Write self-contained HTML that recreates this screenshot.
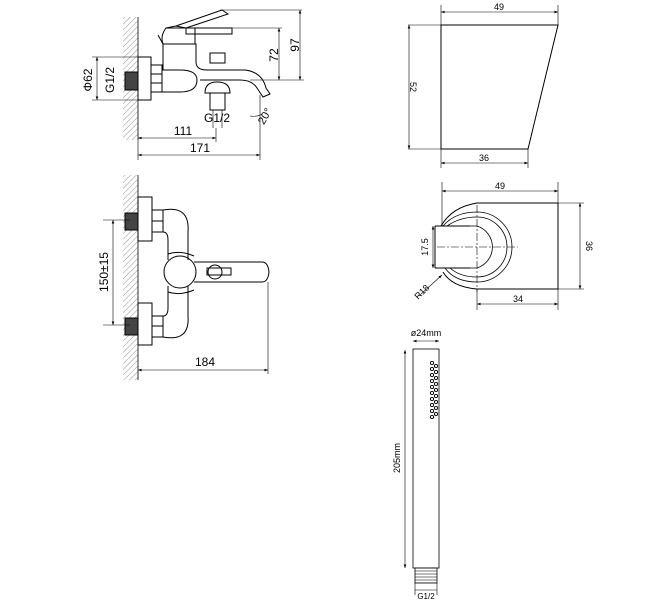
<!DOCTYPE html>
<html><head><meta charset="utf-8"><style>
html,body{margin:0;padding:0;background:#fff;}
svg{display:block;}
text{font-family:"Liberation Sans",sans-serif;fill:#000;}
</style></head><body>
<svg width="654" height="600" viewBox="0 0 654 600" xmlns="http://www.w3.org/2000/svg">
<defs>
<pattern id="h" width="4" height="4" patternUnits="userSpaceOnUse" patternTransform="rotate(45)">
<line x1="0" y1="0" x2="0" y2="4" stroke="#777" stroke-width="0.8"/></pattern>
<pattern id="t" width="3" height="3" patternUnits="userSpaceOnUse">
<line x1="0" y1="1" x2="3" y2="1" stroke="#777" stroke-width="1"/></pattern>
<marker id="a" viewBox="0 0 8 6" refX="8" refY="3" markerWidth="6" markerHeight="5" orient="auto-start-reverse"><path d="M0,0L8,3L0,6z" fill="#000"/></marker>
</defs>
<g fill="none" stroke="#000" stroke-width="1">
<rect x="123" y="17" width="15" height="123" fill="url(#h)" stroke="none"/>
<line x1="138" y1="17" x2="138" y2="140" stroke-width="0.8"/>
<rect x="138" y="57" width="13" height="43"/>
<rect x="151" y="65" width="11" height="27"/>
<line x1="151" y1="74" x2="162" y2="74"/><line x1="151" y1="83" x2="162" y2="83"/>
<rect x="125" y="72" width="13" height="18" fill="#444"/>
<path d="M162,70 H180 Q197,70 197,80 Q197,92 180,92 H162"/>
<path d="M163,70 V44 H196 V62 Q196,70 207,70 H245 Q262,72 266,88 L270,94 L263,97 L257,88 Q252,80 240,80 H200"/>
<path d="M163,44 Q160,36 166,28 H195 V44"/>
<path d="M166,28 L176,26 L186,28"/>
<rect x="186" y="28" width="46" height="6"/>
<path d="M176,26 L222,10"/><path d="M186,28 L228,14 L222,10"/>
<path d="M158,35 L163,44"/>
<rect x="210" y="53" width="15" height="10"/>
<path d="M205,93 Q205,82 217,82 Q230,82 230,93 Z"/>
<rect x="210" y="93" width="15" height="17"/>
<line x1="213" y1="110" x2="213" y2="128" stroke-width="0.6"/>
<line x1="222" y1="110" x2="222" y2="128" stroke-width="0.6"/>
<g stroke-width="0.6">
<line x1="200" y1="28" x2="282" y2="28"/><line x1="220" y1="10" x2="302" y2="10"/>
<line x1="250" y1="80" x2="304" y2="80"/>
<line x1="279" y1="28" x2="279" y2="80" marker-start="url(#a)" marker-end="url(#a)"/>
<line x1="300" y1="10" x2="300" y2="80" marker-start="url(#a)" marker-end="url(#a)"/>
<line x1="92" y1="57" x2="140" y2="57"/><line x1="92" y1="100" x2="140" y2="100"/>
<line x1="97" y1="57" x2="97" y2="100" marker-start="url(#a)" marker-end="url(#a)"/>
<line x1="138" y1="140" x2="138" y2="160"/>
<line x1="138" y1="138" x2="216" y2="138" marker-start="url(#a)" marker-end="url(#a)"/>
<line x1="216" y1="128" x2="216" y2="142"/>
<line x1="260" y1="95" x2="260" y2="160"/>
<line x1="138" y1="155" x2="260" y2="155" marker-start="url(#a)" marker-end="url(#a)"/>
<path d="M250,116 Q258,117 262,114"/>
</g>
<rect x="123" y="175" width="15" height="205" fill="url(#h)" stroke="none"/>
<line x1="138" y1="175" x2="138" y2="380" stroke-width="0.8"/>
<rect x="138" y="197" width="14" height="44"/><rect x="138" y="303" width="14" height="42"/>
<rect x="125" y="213" width="13" height="17" fill="#444"/><rect x="125" y="318" width="13" height="17" fill="#444"/>
<rect x="152" y="210" width="11" height="22"/><rect x="152" y="316" width="11" height="21"/>
<line x1="152" y1="221" x2="163" y2="221"/><line x1="152" y1="326" x2="163" y2="326"/>
<path d="M163,210 Q190,205 188,232 V260 M163,232 Q168,232 168,240 V260"/>
<path d="M163,337 Q190,342 188,316 V286 M163,316 Q168,316 168,308 V286"/>
<path d="M168,254 Q180,250 194,256 M168,292 Q180,296 194,290"/>
<circle cx="180" cy="272" r="16"/>
<path d="M194,262 H262 Q268,262 269,272 Q268,282 262,282 H194"/>
<circle cx="215" cy="272" r="7"/>
<rect x="207" y="268" width="24" height="7"/>
<g stroke-width="0.6">
<line x1="103" y1="220" x2="130" y2="220"/><line x1="103" y1="325" x2="130" y2="325"/>
<line x1="113" y1="220" x2="113" y2="325" marker-start="url(#a)" marker-end="url(#a)"/>
<line x1="268" y1="282" x2="268" y2="374"/>
<line x1="138" y1="370" x2="268" y2="370" marker-start="url(#a)" marker-end="url(#a)"/>
</g>
<path d="M441,25 H558 L528,149 H441 Z"/>
<g stroke-width="0.6">
<line x1="441" y1="5" x2="441" y2="168"/><line x1="558" y1="5" x2="558" y2="25"/><line x1="528" y1="149" x2="528" y2="168"/>
<line x1="408" y1="25" x2="441" y2="25"/><line x1="408" y1="149" x2="441" y2="149"/>
<line x1="441" y1="12" x2="558" y2="12" marker-start="url(#a)" marker-end="url(#a)"/>
<line x1="409" y1="25" x2="409" y2="149" marker-start="url(#a)" marker-end="url(#a)"/>
<line x1="441" y1="163" x2="528" y2="163" marker-start="url(#a)" marker-end="url(#a)"/>
</g>
<path d="M441,226 Q452,207 477,203 H558 V289 H477 Q452,287 443,272"/>
<path d="M443,226 Q455,212 477,212 A35,35 0 0 1 477,282 Q455,282 445,268" stroke-width="0.8"/>
<path d="M447,226 Q460,217 477,217 A30,30 0 0 1 477,277 Q460,277 450,268" stroke-width="0.8"/>
<path d="M470,226 H477 A22,22 0 0 1 477,268 H470" stroke-width="0.8"/>
<path d="M435,226 H470 M435,268 H470 M435,226 V268"/>
<g stroke-width="0.6">
<line x1="442" y1="182" x2="442" y2="226"/><line x1="558" y1="182" x2="558" y2="310"/>
<line x1="558" y1="203" x2="584" y2="203"/><line x1="558" y1="289" x2="584" y2="289"/>
<line x1="442" y1="191" x2="558" y2="191" marker-start="url(#a)" marker-end="url(#a)"/>
<line x1="580" y1="203" x2="580" y2="289" marker-start="url(#a)" marker-end="url(#a)"/>
<line x1="477" y1="289" x2="477" y2="310"/>
<line x1="477" y1="304" x2="558" y2="304" marker-start="url(#a)" marker-end="url(#a)"/>
<line x1="433" y1="226" x2="433" y2="268" marker-start="url(#a)" marker-end="url(#a)"/>
<line x1="477" y1="205" x2="477" y2="292" stroke-dasharray="8,2,2,2"/>
<line x1="437" y1="247" x2="518" y2="247" stroke-dasharray="8,2,2,2"/>
<line x1="420" y1="295" x2="442" y2="275" marker-end="url(#a)"/>
</g>
<rect x="413" y="349" width="26" height="219" stroke-width="0.8"/>
<rect x="415" y="568" width="22" height="15" fill="url(#t)" stroke-width="0.8"/>
<g stroke-width="0.6">
<line x1="413" y1="341" x2="439" y2="341" marker-start="url(#a)" marker-end="url(#a)"/>
<line x1="405" y1="350" x2="405" y2="568" marker-start="url(#a)" marker-end="url(#a)"/>
<line x1="415" y1="583" x2="415" y2="595"/><line x1="437" y1="583" x2="437" y2="595"/>
<line x1="415" y1="590" x2="437" y2="590"/>
</g>
<g stroke-width="0.9">
<circle cx="432" cy="363" r="1.6"/><circle cx="432" cy="369" r="1.6"/><circle cx="432" cy="375" r="1.6"/>
<circle cx="432" cy="381" r="1.6"/><circle cx="432" cy="387" r="1.6"/><circle cx="432" cy="393" r="1.6"/>
<circle cx="432" cy="399" r="1.6"/><circle cx="432" cy="405" r="1.6"/><circle cx="432" cy="411" r="1.6"/><circle cx="432" cy="417" r="1.6"/>
<circle cx="436" cy="366" r="1.6"/><circle cx="436" cy="372" r="1.6"/><circle cx="436" cy="378" r="1.6"/><circle cx="436" cy="384" r="1.6"/><circle cx="436" cy="390" r="1.6"/><circle cx="436" cy="396" r="1.6"/><circle cx="436" cy="402" r="1.6"/><circle cx="436" cy="408" r="1.6"/><circle cx="436" cy="414" r="1.6"/>
</g>
</g>
<g font-size="12">
<text x="281" y="55" transform="rotate(-90 281 55)" text-anchor="middle" dy="-3">72</text>
<text x="302" y="45" transform="rotate(-90 302 45)" text-anchor="middle" dy="-3">97</text>
<text x="95" y="80" transform="rotate(-90 95 80)" text-anchor="middle" dy="-3">Φ62</text>
<text x="117" y="80" transform="rotate(-90 117 80)" text-anchor="middle" dy="-3">G1/2</text>
<text x="217" y="122" text-anchor="middle">G1/2</text>
<text x="183" y="135" text-anchor="middle">111</text>
<text x="200" y="152" text-anchor="middle">171</text>
<text x="268" y="118" transform="rotate(-60 268 118)" text-anchor="middle" font-size="11">20°</text>
<text x="111" y="272" transform="rotate(-90 111 272)" text-anchor="middle" dy="-3">150±15</text>
<text x="205" y="366" text-anchor="middle">184</text>
</g>
<g font-size="9">
<text x="499" y="10" text-anchor="middle">49</text>
<text x="407" y="87" transform="rotate(90 407 87)" text-anchor="middle" dy="-3">52</text>
<text x="484" y="161" text-anchor="middle">36</text>
<text x="500" y="189" text-anchor="middle">49</text>
<text x="583" y="246" transform="rotate(90 583 246)" text-anchor="middle" dy="-3">36</text>
<text x="518" y="302" text-anchor="middle">34</text>
<text x="431" y="247" transform="rotate(-90 431 247)" text-anchor="middle" dy="-3">17.5</text>
<text x="424" y="294" transform="rotate(-45 424 294)" text-anchor="middle">R18</text>
<text x="426" y="336" text-anchor="middle">ø24mm</text>
<text x="403" y="458" transform="rotate(-90 403 458)" text-anchor="middle" dy="-3">205mm</text>
<text x="426" y="599" text-anchor="middle" font-size="8">G1/2</text>
</g>
</svg>
</body></html>
